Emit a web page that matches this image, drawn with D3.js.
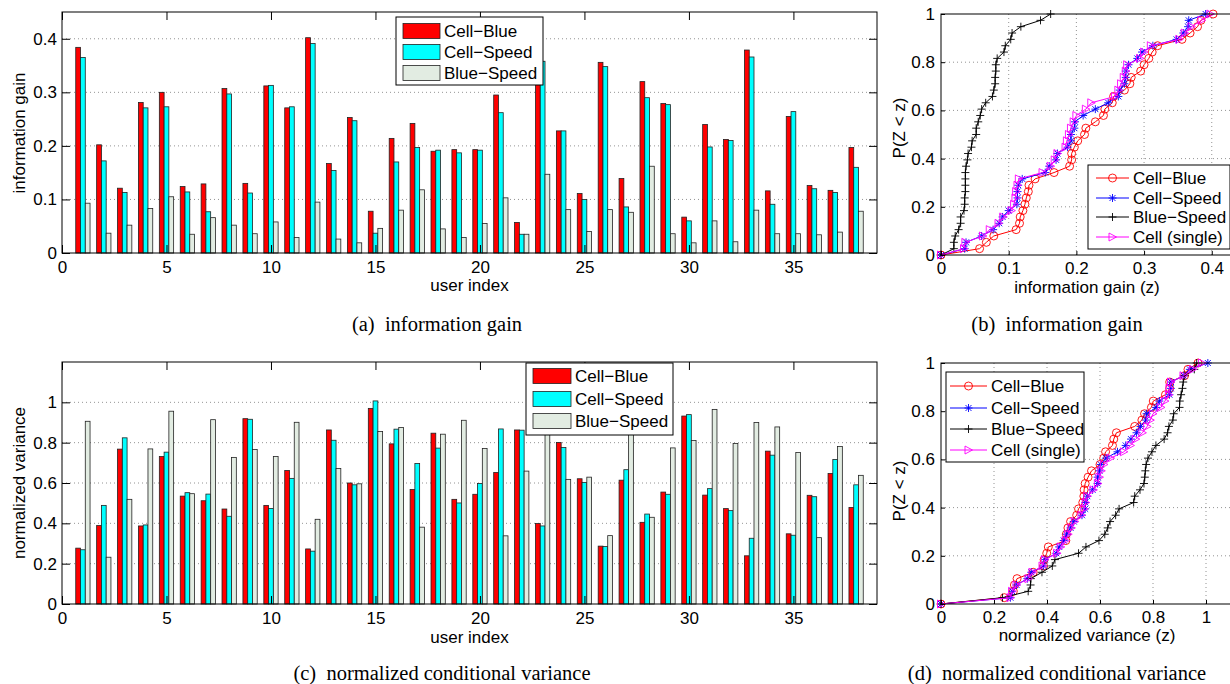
<!DOCTYPE html>
<html>
<head>
<meta charset="utf-8">
<script src="https://cdn.jsdelivr.net/npm/d3@7"></script>
<style>
    body { margin: 0; background: #fff; }
    text { font-family: "Liberation Sans", Arial, Helvetica, sans-serif; fill: #000; }
    .caption { font-family: "Liberation Serif", "Times New Roman", serif; }
</style>
</head>
<body>
<svg id="chart" width="1230" height="684"></svg>
<script>

// users on the x axis of the bar charts
const users = d3.range(1, 39);

const barNames = ['Cell\u2212Blue', 'Cell\u2212Speed', 'Blue\u2212Speed'];
const cdfNames = ['Cell\u2212Blue', 'Cell\u2212Speed', 'Blue\u2212Speed', 'Cell (single)'];

// (a) information gain per user
const gainCellBlue = [0.384, 0.202, 0.121, 0.281, 0.300, 0.124, 0.129, 0.307, 0.130, 0.312,
    0.271, 0.402, 0.167, 0.253, 0.078, 0.214, 0.242, 0.190, 0.193, 0.193,
    0.295, 0.057, 0.368, 0.228, 0.111, 0.356, 0.139, 0.320, 0.279, 0.067,
    0.240, 0.212, 0.379, 0.116, 0.255, 0.126, 0.117, 0.197];
const gainCellSpeed = [0.365, 0.172, 0.113, 0.271, 0.273, 0.114, 0.077, 0.297, 0.112, 0.313,
    0.273, 0.391, 0.154, 0.247, 0.037, 0.170, 0.197, 0.192, 0.187, 0.192,
    0.262, 0.035, 0.358, 0.228, 0.100, 0.348, 0.086, 0.290, 0.277, 0.060,
    0.198, 0.210, 0.366, 0.091, 0.264, 0.120, 0.113, 0.160];
const gainBlueSpeed = [0.093, 0.037, 0.052, 0.083, 0.105, 0.035, 0.066, 0.052, 0.036, 0.058,
    0.029, 0.095, 0.026, 0.019, 0.046, 0.080, 0.118, 0.045, 0.029, 0.055,
    0.103, 0.035, 0.147, 0.081, 0.040, 0.081, 0.076, 0.162, 0.036, 0.019,
    0.060, 0.021, 0.080, 0.036, 0.036, 0.034, 0.039, 0.078];
// (b) single-sensor gain, only shown as a CDF
const gainCellSingle = [0.034, 0.036, 0.062, 0.072, 0.085, 0.092, 0.104, 0.108, 0.110, 0.111,
    0.113, 0.115, 0.150, 0.162, 0.168, 0.172, 0.184, 0.186, 0.189, 0.192,
    0.196, 0.200, 0.214, 0.222, 0.257, 0.262, 0.266, 0.270, 0.273, 0.275,
    0.294, 0.300, 0.310, 0.352, 0.360, 0.370, 0.385, 0.398];

// (c) normalized conditional variance per user
const varCellBlue = [0.277, 0.389, 0.768, 0.387, 0.731, 0.535, 0.512, 0.471, 0.919, 0.489,
    0.662, 0.273, 0.863, 0.600, 0.970, 0.794, 0.568, 0.847, 0.519, 0.544,
    0.652, 0.863, 0.399, 0.801, 0.621, 0.287, 0.614, 0.405, 0.555, 0.932,
    0.540, 0.473, 0.239, 0.758, 0.348, 0.539, 0.647, 0.479];
const varCellSpeed = [0.269, 0.489, 0.824, 0.392, 0.753, 0.552, 0.545, 0.435, 0.916, 0.474,
    0.623, 0.262, 0.812, 0.591, 1.007, 0.867, 0.697, 0.773, 0.501, 0.598,
    0.868, 0.862, 0.387, 0.776, 0.603, 0.285, 0.666, 0.446, 0.544, 0.939,
    0.572, 0.463, 0.326, 0.738, 0.341, 0.532, 0.717, 0.591];
const varBlueSpeed = [0.906, 0.232, 0.519, 0.769, 0.956, 0.547, 0.914, 0.727, 0.766, 0.731,
    0.901, 0.420, 0.672, 0.596, 0.855, 0.875, 0.381, 0.842, 0.911, 0.771,
    0.338, 0.659, 0.920, 0.618, 0.629, 0.339, 0.860, 0.430, 0.774, 0.811,
    0.965, 0.796, 0.900, 0.878, 0.751, 0.329, 0.781, 0.638];
const varCellSingle = [0.262, 0.268, 0.285, 0.330, 0.345, 0.383, 0.392, 0.438, 0.452, 0.470,
    0.480, 0.492, 0.505, 0.530, 0.540, 0.546, 0.552, 0.575, 0.592, 0.598,
    0.605, 0.615, 0.640, 0.690, 0.715, 0.735, 0.760, 0.778, 0.790, 0.800,
    0.830, 0.845, 0.860, 0.862, 0.868, 0.915, 0.950, 0.985];

// tick labels
const userTicks = [0, 5, 10, 15, 20, 25, 30, 35];
const gainTicks = [0, 0.1, 0.2, 0.3, 0.4];
const varTicks = [0, 0.2, 0.4, 0.6, 0.8, 1];
const probTicks = [0, 0.2, 0.4, 0.6, 0.8, 1];

const barColors = ['#ff0000', '#00ffff', '#e2ece2'];
const lineColors = ['#ff0000', '#0000ff', '#000000', '#ff00ff'];
const markerPaths = {
    star: 'M-4,0H4M0,-4V4M-3,-3L3,3M-3,3L3,-3',
    plus: 'M-4,0H4M0,-4V4',
    tri: 'M-3.5,-4L4,0L-3.5,4Z'
};
const markerKinds = ['circle', 'star', 'plus', 'tri'];
const FONT = '17px';

function init() {
    const svg = d3.select('#chart');

    /*************************** bar charts ***************************/
    drawBars(svg, {
        left: 62, right: 877, top: 12, bottom: 253,
        yDomain: [0, 0.45], yTicks: gainTicks,
        series: [gainCellBlue, gainCellSpeed, gainBlueSpeed],
        yLabel: 'information gain', yLabelY: 133, xLabelY: 291,
        legend: { x0: 396, x1: 543, y0: 17, y1: 85, rows: [31, 52, 73], sw: [403, 440], tx: 444 }
    });
    drawBars(svg, {
        left: 62, right: 877, top: 362, bottom: 604,
        yDomain: [0, 1.2], yTicks: varTicks,
        series: [varCellBlue, varCellSpeed, varBlueSpeed],
        yLabel: 'normalized variance', yLabelY: 483, xLabelY: 643,
        legend: { x0: 526, x1: 673, y0: 363, y1: 435, rows: [376, 399, 421], sw: [533, 571], tx: 575 }
    });

    /*************************** cdf charts ***************************/
    drawCdf(svg, {
        left: 941, right: 1245.6, top: 14, bottom: 255,
        xDomain: [0, 0.45], xTicks: gainTicks,
        series: [gainCellBlue, gainCellSpeed, gainBlueSpeed, gainCellSingle],
        xLabel: 'information gain (z)', yLabelY: 128, xLabelY: 293,
        legend: { x0: 1088, x1: 1230, y0: 165, y1: 249, rows: [178, 198, 217, 237], ln: [1096, 1129], tx: 1133 }
    });
    drawCdf(svg, {
        left: 941, right: 1259, top: 363, bottom: 604,
        xDomain: [0, 1.2], xTicks: varTicks,
        series: [varCellBlue, varCellSpeed, varBlueSpeed, varCellSingle],
        xLabel: 'normalized variance (z)', yLabelY: 491, xLabelY: 641,
        legend: { x0: 946, x1: 1084, y0: 372, y1: 462, rows: [386, 408, 429, 450], ln: [950, 987], tx: 991 }
    });

    /*************************** captions ***************************/
    const captions = [
        { t: '(a)\u2002information gain', x: 437, y: 331 },
        { t: '(b)\u2002information gain', x: 1057, y: 331 },
        { t: '(c)\u2002normalized conditional variance', x: 442, y: 680 },
        { t: '(d)\u2002normalized conditional variance', x: 1057, y: 680 }
    ];
    svg.selectAll('.caption').data(captions).enter().append('text')
        .attr('class', 'caption')
        .attr('x', d => d.x).attr('y', d => d.y)
        .attr('text-anchor', 'middle')
        .style('font-size', '20.5px')
        .text(d => d.t);
}

function styleAxis(g) {
    g.select('.domain').remove();
    g.selectAll('.tick line').attr('stroke', '#000');
    g.selectAll('.tick text').style('font-size', FONT).attr('fill', '#000');
}

function drawBars(svg, c) {
    const x = d3.scaleLinear().domain([0, 39]).range([c.left, c.right]);
    const y = d3.scaleLinear().domain(c.yDomain).range([c.bottom, c.top]);
    const g = svg.append('g');

    // dotted horizontal grid
    g.selectAll('.grid').data(c.yTicks.filter(t => t > 0)).enter().append('line')
        .attr('x1', c.left).attr('x2', c.right)
        .attr('y1', d => y(d)).attr('y2', d => y(d))
        .attr('stroke', '#777').attr('stroke-width', 0.8).attr('stroke-dasharray', '1,3');

    // grouped bars
    const bw = 0.228;
    c.series.forEach((vals, s) => {
        g.selectAll(null).data(vals).enter().append('rect')
            .attr('x', (d, i) => x(users[i] + (s - 1) * bw - bw / 2))
            .attr('width', x(bw) - x(0))
            .attr('y', d => y(d))
            .attr('height', d => y(0) - y(d))
            .attr('fill', barColors[s])
            .attr('stroke', '#222').attr('stroke-width', 0.8);
    });

    // axes, ticks inside
    g.append('g').attr('transform', `translate(0,${c.bottom})`)
        .call(d3.axisBottom(x).tickValues(userTicks).tickSize(-8).tickPadding(8).tickFormat(d => String(d)))
        .call(styleAxis);
    g.append('g').attr('transform', `translate(0,${c.top})`)
        .call(d3.axisTop(x).tickValues(userTicks).tickSize(-8).tickFormat(''))
        .call(styleAxis);
    g.append('g').attr('transform', `translate(${c.left},0)`)
        .call(d3.axisLeft(y).tickValues(c.yTicks).tickSize(-8).tickPadding(5).tickFormat(d => String(d)))
        .call(styleAxis);
    g.append('g').attr('transform', `translate(${c.right},0)`)
        .call(d3.axisRight(y).tickValues(c.yTicks).tickSize(-8).tickFormat(''))
        .call(styleAxis);

    g.append('rect')
        .attr('x', c.left).attr('y', c.top)
        .attr('width', c.right - c.left).attr('height', c.bottom - c.top)
        .attr('fill', 'none').attr('stroke', '#000').attr('stroke-width', 1);

    // labels
    g.append('text')
        .attr('transform', `translate(25,${c.yLabelY}) rotate(-90)`)
        .attr('text-anchor', 'middle').style('font-size', FONT)
        .text(c.yLabel);
    g.append('text')
        .attr('x', (c.left + c.right) / 2).attr('y', c.xLabelY)
        .attr('text-anchor', 'middle').style('font-size', FONT)
        .text('user index');

    // legend
    const L = c.legend;
    g.append('rect')
        .attr('x', L.x0).attr('y', L.y0)
        .attr('width', L.x1 - L.x0).attr('height', L.y1 - L.y0)
        .attr('fill', '#fff').attr('stroke', '#000').attr('stroke-width', 1);
    const entries = g.selectAll('.legend-entry').data(barNames).enter().append('g');
    entries.append('rect')
        .attr('x', L.sw[0]).attr('y', (d, i) => L.rows[i] - 7.5)
        .attr('width', L.sw[1] - L.sw[0]).attr('height', 15)
        .attr('fill', (d, i) => barColors[i])
        .attr('stroke', '#222').attr('stroke-width', 0.8);
    entries.append('text')
        .attr('x', L.tx).attr('y', (d, i) => L.rows[i] + 6)
        .style('font-size', FONT)
        .text(d => d);
}

function drawMarker(sel, kind, color) {
    if (kind === 'circle') {
        sel.append('circle').attr('r', 4)
            .attr('fill', 'none').attr('stroke', color).attr('stroke-width', 0.9);
    } else {
        sel.append('path').attr('d', markerPaths[kind])
            .attr('fill', 'none').attr('stroke', color).attr('stroke-width', 0.9);
    }
}

function drawCdf(svg, c) {
    const x = d3.scaleLinear().domain(c.xDomain).range([c.left, c.right]);
    const y = d3.scaleLinear().domain([0, 1]).range([c.bottom, c.top]);
    const g = svg.append('g');

    // dotted grid
    g.selectAll('.vgrid').data(c.xTicks.filter(t => t > 0)).enter().append('line')
        .attr('x1', d => x(d)).attr('x2', d => x(d))
        .attr('y1', c.top).attr('y2', c.bottom)
        .attr('stroke', '#777').attr('stroke-width', 0.8).attr('stroke-dasharray', '1,3');
    g.selectAll('.hgrid').data(probTicks.filter(t => t > 0 && t < 1)).enter().append('line')
        .attr('x1', c.left).attr('x2', c.right)
        .attr('y1', d => y(d)).attr('y2', d => y(d))
        .attr('stroke', '#777').attr('stroke-width', 0.8).attr('stroke-dasharray', '1,3');

    // empirical cdfs
    const line = d3.line().x(d => x(d[0])).y(d => y(d[1]));
    c.series.forEach((vals, s) => {
        const sorted = vals.slice().sort(d3.ascending);
        const pts = [[0, 0]].concat(sorted.map((v, i) => [v, (i + 1) / sorted.length]));
        g.append('path').datum(pts)
            .attr('d', line)
            .attr('fill', 'none').attr('stroke', lineColors[s]).attr('stroke-width', 1);
        const m = g.selectAll(null).data(pts).enter().append('g')
            .attr('transform', d => `translate(${x(d[0])},${y(d[1])})`);
        drawMarker(m, markerKinds[s], lineColors[s]);
    });

    // axes
    g.append('g').attr('transform', `translate(0,${c.bottom})`)
        .call(d3.axisBottom(x).tickValues(c.xTicks).tickSize(-4).tickPadding(7).tickFormat(d => String(d)))
        .call(styleAxis);
    g.append('g').attr('transform', `translate(${c.left},0)`)
        .call(d3.axisLeft(y).tickValues(probTicks).tickSize(-4).tickPadding(6).tickFormat(d => String(d)))
        .call(styleAxis);

    g.append('rect')
        .attr('x', c.left).attr('y', c.top)
        .attr('width', c.right - c.left).attr('height', c.bottom - c.top)
        .attr('fill', 'none').attr('stroke', '#000').attr('stroke-width', 1);

    g.append('text')
        .attr('transform', `translate(905,${c.yLabelY}) rotate(-90)`)
        .attr('text-anchor', 'middle').style('font-size', FONT)
        .text('P(Z < z)');
    g.append('text')
        .attr('x', 1087).attr('y', c.xLabelY)
        .attr('text-anchor', 'middle').style('font-size', FONT)
        .text(c.xLabel);

    // legend
    const L = c.legend;
    g.append('rect')
        .attr('x', L.x0).attr('y', L.y0)
        .attr('width', L.x1 - L.x0).attr('height', L.y1 - L.y0)
        .attr('fill', '#fff').attr('stroke', '#000').attr('stroke-width', 1);
    cdfNames.forEach((name, i) => {
        const ry = L.rows[i];
        g.append('line')
            .attr('x1', L.ln[0]).attr('x2', L.ln[1]).attr('y1', ry).attr('y2', ry)
            .attr('stroke', lineColors[i]).attr('stroke-width', 1);
        const m = g.append('g').attr('transform', `translate(${(L.ln[0] + L.ln[1]) / 2},${ry})`);
        drawMarker(m, markerKinds[i], lineColors[i]);
        g.append('text')
            .attr('x', L.tx).attr('y', ry + 6)
            .style('font-size', FONT)
            .text(name);
    });
}

window.onload = init;
</script>
</body>
</html>
